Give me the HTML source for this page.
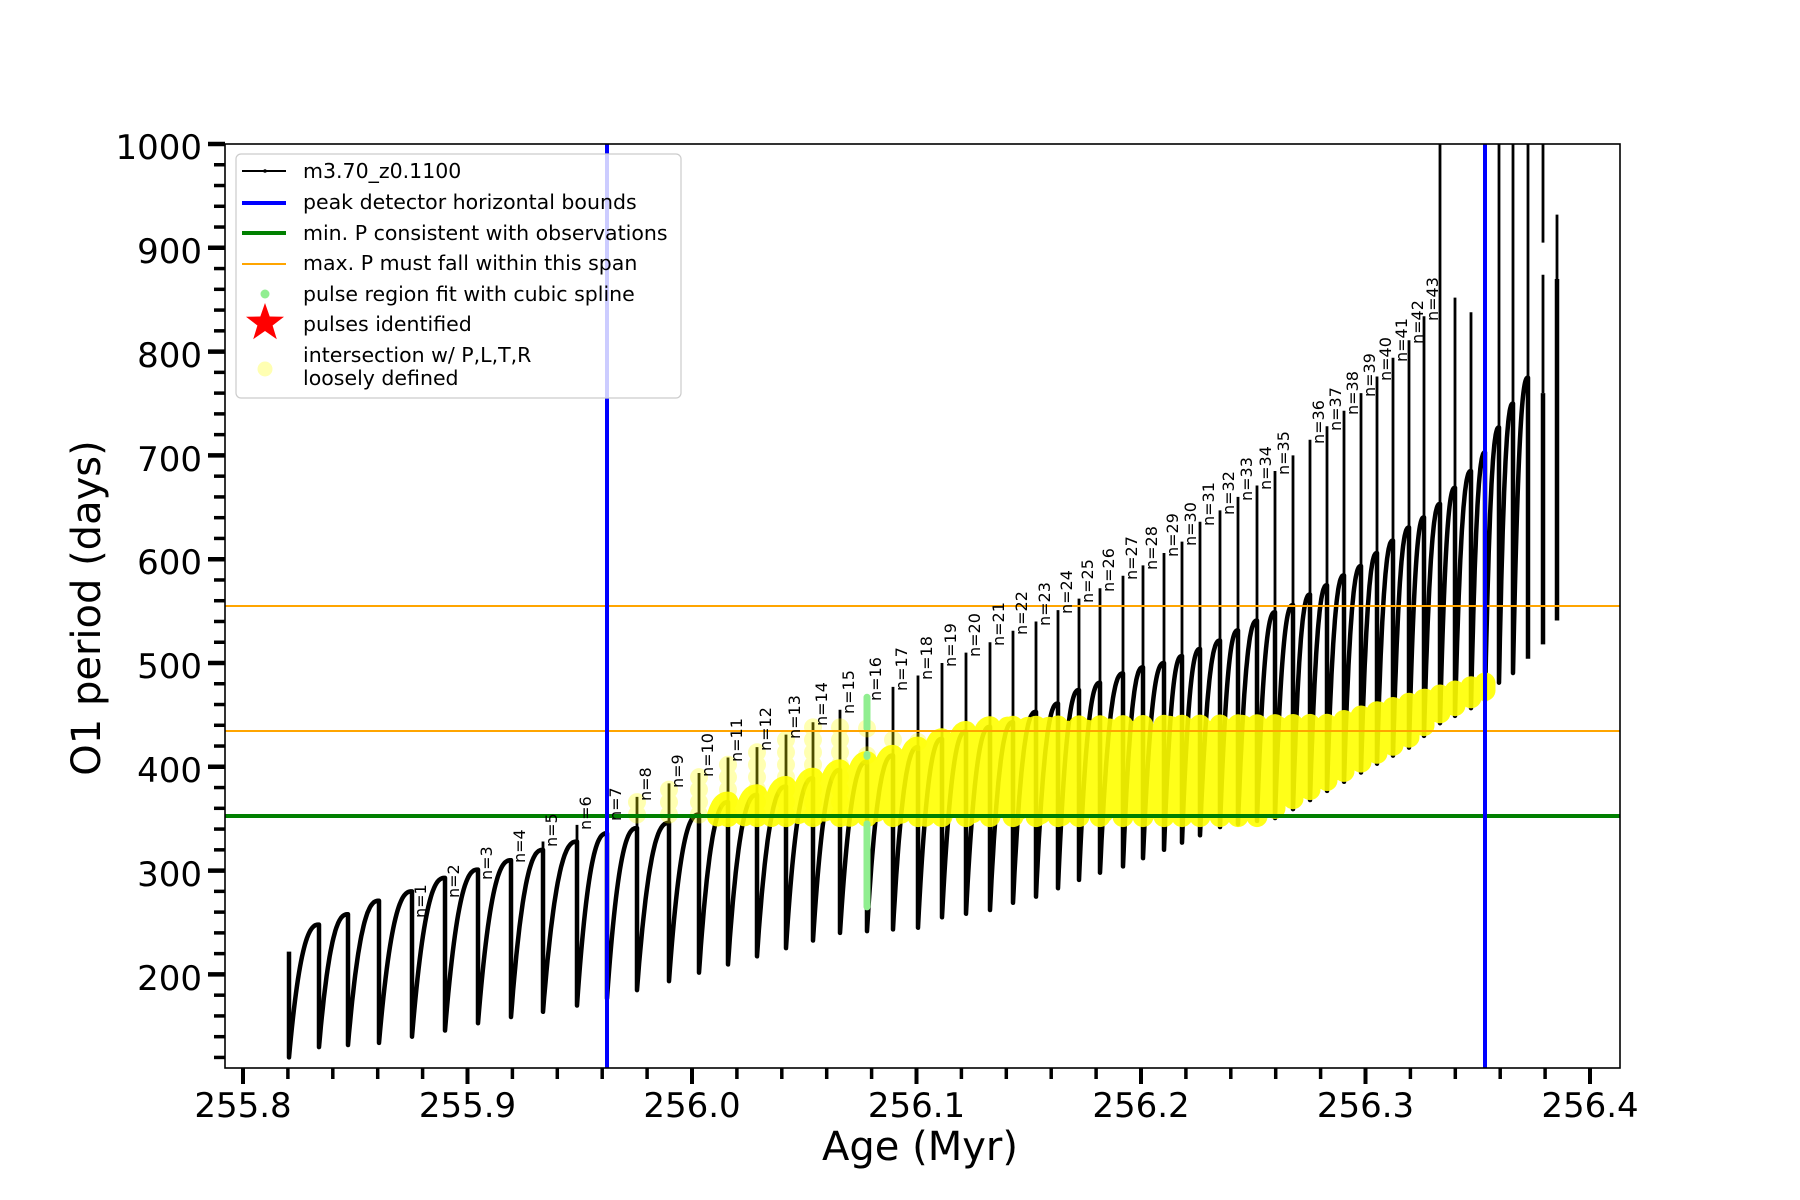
<!DOCTYPE html>
<html><head><meta charset="utf-8"><style>
html,body{margin:0;padding:0;background:#fff;}
svg{display:block;font-family:"DejaVu Sans","Liberation Sans",sans-serif;}
</style></head><body>
<svg id="s" width="1800" height="1200" viewBox="0 0 1800 1200" xmlns="http://www.w3.org/2000/svg">
<defs><clipPath id="ax"><rect x="225" y="144" width="1395" height="924"/></clipPath></defs>
<rect width="1800" height="1200" fill="#fff"/>
<g clip-path="url(#ax)">
<path id="spikes" fill="none" stroke="#000" stroke-width="2.8"/>
<path id="curve" fill="none" stroke="#000" stroke-width="4.5" stroke-linejoin="round"/>
<path id="yel" fill="none" stroke="#ffff00" stroke-width="21" stroke-linecap="round" stroke-linejoin="round" opacity="0.9"/>
<g id="pale" fill="#ffff00" opacity="0.3"></g>
<path id="grn" fill="none" stroke="#90ee90" stroke-width="7" stroke-linecap="round"/>
<line x1="225" y1="606" x2="1620" y2="606" stroke="#ffa500" stroke-width="2"/>
<line x1="225" y1="731" x2="1620" y2="731" stroke="#ffa500" stroke-width="2"/>
<line x1="225" y1="816" x2="1620" y2="816" stroke="#008000" stroke-width="4"/>
<line x1="607" y1="144" x2="607" y2="1068" stroke="#0000ff" stroke-width="4"/>
<line x1="1485" y1="144" x2="1485" y2="1068" stroke="#0000ff" stroke-width="4"/>
</g>
<rect x="225" y="144" width="1395" height="924" fill="none" stroke="#000" stroke-width="1.6"/>
<g id="ticks" stroke="#000"></g>
<g font-size="34" fill="#000" text-anchor="end">
<text x="202" y="990">200</text><text x="202" y="886">300</text><text x="202" y="782">400</text>
<text x="202" y="678">500</text><text x="202" y="574">600</text><text x="202" y="471">700</text>
<text x="202" y="367">800</text><text x="202" y="263">900</text><text x="202" y="159">1000</text>
</g>
<g font-size="34" fill="#000" text-anchor="middle">
<text x="243" y="1117">255.8</text><text x="467.5" y="1117">255.9</text><text x="692" y="1117">256.0</text>
<text x="916.5" y="1117">256.1</text><text x="1141" y="1117">256.2</text><text x="1365.5" y="1117">256.3</text>
<text x="1590" y="1117">256.4</text>
</g>
<text x="920" y="1160" font-size="40" text-anchor="middle">Age (Myr)</text>
<text transform="translate(100,608) rotate(-90)" font-size="40" text-anchor="middle">O1 period (days)</text>
<g font-size="16" fill="#000">
<text transform="translate(426,918) rotate(-90)">n=1</text>
<text transform="translate(459,898) rotate(-90)">n=2</text>
<text transform="translate(492,880) rotate(-90)">n=3</text>
<text transform="translate(525,863) rotate(-90)">n=4</text>
<text transform="translate(557,847) rotate(-90)">n=5</text>
<text transform="translate(591,830) rotate(-90)">n=6</text>
<text transform="translate(621,821) rotate(-90)">n=7</text>
<text transform="translate(651,801) rotate(-90)">n=8</text>
<text transform="translate(683,788) rotate(-90)">n=9</text>
<text transform="translate(713,777) rotate(-90)">n=10</text>
<text transform="translate(742,762) rotate(-90)">n=11</text>
<text transform="translate(771,751) rotate(-90)">n=12</text>
<text transform="translate(800,739) rotate(-90)">n=13</text>
<text transform="translate(827,726) rotate(-90)">n=14</text>
<text transform="translate(854,714) rotate(-90)">n=15</text>
<text transform="translate(881,701) rotate(-90)">n=16</text>
<text transform="translate(907,691) rotate(-90)">n=17</text>
<text transform="translate(932,680) rotate(-90)">n=18</text>
<text transform="translate(956,667) rotate(-90)">n=19</text>
<text transform="translate(980,657) rotate(-90)">n=20</text>
<text transform="translate(1004,646) rotate(-90)">n=21</text>
<text transform="translate(1027,635) rotate(-90)">n=22</text>
<text transform="translate(1050,626) rotate(-90)">n=23</text>
<text transform="translate(1072,614) rotate(-90)">n=24</text>
<text transform="translate(1093,603) rotate(-90)">n=25</text>
<text transform="translate(1114,592) rotate(-90)">n=26</text>
<text transform="translate(1137,580) rotate(-90)">n=27</text>
<text transform="translate(1157,570) rotate(-90)">n=28</text>
<text transform="translate(1178,557) rotate(-90)">n=29</text>
<text transform="translate(1196,546) rotate(-90)">n=30</text>
<text transform="translate(1214,526) rotate(-90)">n=31</text>
<text transform="translate(1234,515) rotate(-90)">n=32</text>
<text transform="translate(1252,501) rotate(-90)">n=33</text>
<text transform="translate(1271,490) rotate(-90)">n=34</text>
<text transform="translate(1289,475) rotate(-90)">n=35</text>
<text transform="translate(1324,444) rotate(-90)">n=36</text>
<text transform="translate(1341,431) rotate(-90)">n=37</text>
<text transform="translate(1358,415) rotate(-90)">n=38</text>
<text transform="translate(1375,397) rotate(-90)">n=39</text>
<text transform="translate(1391,381) rotate(-90)">n=40</text>
<text transform="translate(1407,362) rotate(-90)">n=41</text>
<text transform="translate(1423,344) rotate(-90)">n=42</text>
<text transform="translate(1438,321) rotate(-90)">n=43</text>
</g>
<g>
<rect x="236" y="154" width="445" height="244" rx="5" fill="#fff" fill-opacity="0.8" stroke="#cccccc" stroke-width="1.2"/>
<line x1="242" y1="171" x2="286" y2="171" stroke="#000" stroke-width="2"/><circle cx="265" cy="171" r="1.8"/>
<line x1="242" y1="203" x2="286" y2="203" stroke="#0000ff" stroke-width="4"/>
<line x1="242" y1="233" x2="286" y2="233" stroke="#008000" stroke-width="4"/>
<line x1="242" y1="264" x2="286" y2="264" stroke="#ffa500" stroke-width="2"/>
<circle cx="265" cy="294" r="4.5" fill="#90ee90"/>
<polygon fill="#ff0000" points="265,303 269.7,316.5 284,316.8 272.6,325.5 276.8,339.2 265,331 253.2,339.2 257.4,325.5 246,316.8 260.3,316.5"/>
<circle cx="265" cy="369" r="7.5" fill="#ffff00" opacity="0.3"/>
<g font-size="20.5" fill="#000">
<text x="303" y="178">m3.70_z0.1100</text>
<text x="303" y="209">peak detector horizontal bounds</text>
<text x="303" y="240">min. P consistent with observations</text>
<text x="303" y="270">max. P must fall within this span</text>
<text x="303" y="301">pulse region fit with cubic spline</text>
<text x="303" y="331">pulses identified</text>
<text x="303" y="362">intersection w/ P,L,T,R</text>
<text x="303" y="385">loosely defined</text>
</g>
</g>
</svg>
<script>
(function(){
function Y(p){return 144+(1000-p)*1.038;}
function ip(pts,x){if(x<=pts[0][0])return pts[0][1];for(var i=1;i<pts.length;i++){if(x<=pts[i][0]){var a=pts[i-1],b=pts[i];return a[1]+(b[1]-a[1])*(x-a[0])/(b[0]-a[0]);}}return pts[pts.length-1][1];}
var PMAX=[[289,240],[319,248],[348,258],[379,271],[412,280],[445,293],[478,301],[511,310],[543,320],[577,328],[607,336],[637,341],[669,346],[699,354],[728,366],[757,373],[786,381],[813,389],[840,397],[867,405],[893,411],[918,419],[942,427],[966,434],[1013,443],[1036,453],[1058,461],[1079,474],[1100,481],[1123,490],[1143,496],[1164,500],[1217,520],[1235,530],[1253,539],[1272,548],[1290,554],[1308,565],[1327,575],[1343,584],[1362,594],[1377,606],[1393,618],[1408,630],[1425,641],[1442,655],[1457,671],[1472,686],[1485,703],[1499,727],[1513,750],[1528,775]];
var PMIN=[[289,120],[319,130],[348,132],[379,134],[412,140],[445,146],[478,153],[511,159],[543,164],[577,170],[608,177],[840,240],[918,245],[942,255],[990,262],[1013,269],[1036,275],[1058,283],[1079,291],[1100,298],[1123,304],[1143,312],[1164,320],[1200,334],[1220,342],[1277,351],[1310,368],[1343,385],[1377,403],[1410,419],[1440,442],[1470,456],[1485,464],[1499,481],[1514,491],[1528,504],[1542,518],[1557,541]];
var L=[[700,352],[1260,352],[1277,361],[1310,378],[1343,395],[1377,413],[1410,429],[1440,452],[1470,466],[1486,474]];
var U=[[700,437],[1330,441],[1486,481]];
var P=[[289,0],[319,0],[348,0],[379,0],[412,280],[445,293],[478,301],[511,312],[543,328],[577,344],[607,352],[637,371],[669,384],[699,394],[728,409],[757,419],[786,431],[813,443],[840,455],[867,467],[893,477],[918,488],[942,500],[966,510],[990,520],[1013,531],[1036,540],[1058,551],[1079,562],[1100,572],[1123,584],[1143,594],[1164,606],[1182,617],[1200,636],[1220,647],[1238,660],[1257,671],[1275,685],[1293,700],[1310,715],[1327,728],[1344,743],[1361,760],[1377,776],[1393,794],[1409,811],[1424,834],[1440,1010],[1455,852],[1471,838],[1485,760],[1499,1010],[1513,1010],[1528,1010]];
var c="M289,"+Y(222).toFixed(1)+" L289,"+Y(120).toFixed(1);
var sp="",yl="",inb=false;
function addY(x,p){var lo=ip(L,x),hi=ip(U,x);if(x>=703&&x<=1490&&p>=lo&&p<=hi){yl+=(inb?" L":" M")+x.toFixed(1)+","+Y(p).toFixed(1);inb=true;}else inb=false;}
for(var k=1;k<P.length;k++){
 var x0=P[k-1][0],x1=P[k][0],a=ip(PMIN,x0),b=ip(PMAX,x1);
 inb=false;
 for(var i=1;i<=30;i++){var t=i/30,p=a+(b-a)*(1-Math.pow(1-t,2.5)),x=x0+(x1-x0)*t;c+=" L"+x.toFixed(1)+","+Y(p).toFixed(1);addY(x,p);}
 var m=ip(PMIN,x1);c+=" L"+x1+","+Y(m).toFixed(1);
 if(x1>=703&&x1<=1490){var lo=Math.max(ip(L,x1),m),hi=Math.min(ip(U,x1),b);if(hi>lo)yl+=" M"+x1+","+Y(hi).toFixed(1)+" L"+x1+","+Y(lo).toFixed(1);}
 var top=P[k][1];if(top>b)sp+=" M"+x1+","+Y(b).toFixed(1)+" L"+x1+","+Y(top).toFixed(1);
}
c+=" M1543,"+Y(518)+" L1543,"+Y(760)+" M1557,"+Y(541)+" L1557,"+Y(870);
sp+=" M1543,"+Y(760)+" L1543,"+Y(874)+" M1543,"+Y(905)+" L1543,"+Y(1010)+" M1557,"+Y(870)+" L1557,"+Y(932);
document.getElementById("curve").setAttribute("d",c);
document.getElementById("spikes").setAttribute("d",sp);
document.getElementById("yel").setAttribute("d",yl);
document.getElementById("grn").setAttribute("d","M867,"+Y(265)+" L867,"+Y(345)+" M867,"+Y(437)+" L867,"+Y(467)+" M867,"+Y(410)+" L867,"+Y(412));
var pale=document.getElementById("pale"),ns="http://www.w3.org/2000/svg";
function circ(x,p){var e=document.createElementNS(ns,"circle");e.setAttribute("cx",x);e.setAttribute("cy",Y(p));e.setAttribute("r",9);pale.appendChild(e);}
for(var k=10;k<=18;k++){var x=P[k][0],t=P[k][1];for(var p=354;p<=t-4&&p<=440;p+=12)circ(x,p);}
circ(867,411);circ(867,437);circ(893,426);circ(918,424);
var tk=document.getElementById("ticks"),s="";
function ln(x1,y1,x2,y2,w){s+='<line x1="'+x1+'" y1="'+y1+'" x2="'+x2+'" y2="'+y2+'" stroke-width="'+w+'"/>';}
for(var p=120;p<=1000;p+=20){var y=Y(p);if(p%100==0)ln(208,y,225,y,4.5);else ln(214,y,225,y,3.5);}
for(var i=0;i<=31;i++){var x=243+i*44.9;if(x>1620)break;if(i%5==0)ln(x,1068,x,1084,4);else ln(x,1068,x,1079,3.5);}
tk.innerHTML=s;
})();
</script>
</body></html>
